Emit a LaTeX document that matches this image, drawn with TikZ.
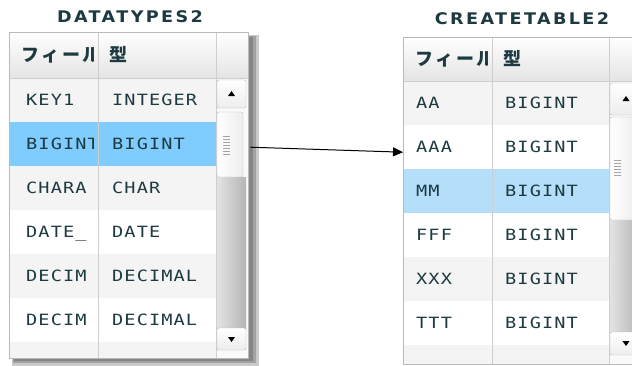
\documentclass[tikz,border=0pt]{standalone}
\usepackage{fontspec}
\usepackage{xcolor}
\usepackage{tikz}
\usetikzlibrary{positioning,arrows.meta}
\newfontfamily\cellfont[FakeStretch=1.2,LetterSpace=7]{DejaVu Sans Mono}
\newfontfamily\titlefont[FakeStretch=1.1,LetterSpace=15]{DejaVu Sans}
\newfontfamily\jpfont[LetterSpace=15]{Noto Sans CJK JP}
\definecolor{inktxt}{RGB}{28,58,64}
\definecolor{rowgray}{RGB}{244,244,244}
\definecolor{selblue}{RGB}{128,204,255}
\definecolor{selpale}{RGB}{180,222,250}
\definecolor{gridln}{RGB}{206,206,206}
\definecolor{hdrbot}{RGB}{228,228,228}
\tikzset{
  tbltitle/.style={font={\titlefont\bfseries\fontsize{16}{19}\selectfont}, text=inktxt, inner sep=0pt, text height=12pt, text depth=0pt},
  hdrtxt/.style={font={\jpfont\bfseries\fontsize{18}{20}\selectfont}, text=inktxt, anchor=west, inner sep=0pt, text height=13pt, text depth=0pt},
  celltxt/.style={font={\cellfont\fontsize{15.5}{18}\selectfont}, text=inktxt, anchor=west, inner sep=0pt, text height=11.3pt, text depth=0pt},
  rowbg/.style={rectangle, anchor=north west, inner sep=0pt, minimum width=239pt, minimum height=44pt},
  grid/.style={draw=gridln, line width=1pt},
  tblborder/.style={draw=gray!55, line width=1pt},
  hdrshade/.style={top color=white, bottom color=hdrbot},
  shadowlayer/.style={fill=black!75, opacity=0.28},
  sbbase/.style={fill=gray!5},
  sbbtn/.style={draw=gray!55, top color=white, bottom color=gray!14, rounded corners=1.5pt},
  sbthumb/.style={draw=gray!55, left color=white, right color=gray!14, rounded corners=2pt},
  sbtrack/.style={left color=gray!22, right color=gray!58},
  grip/.style={draw=gray!70, line width=0.8pt},
  link/.style={draw=black, line width=1pt, -{Triangle[length=10pt,width=9pt]}}
}
\begin{document}
\begin{tikzpicture}[x=1pt,y=-1pt]
  \useasboundingbox (0,0) rectangle (632,365);
  \clip (0,0) rectangle (632,365);
  \fill[white] (0,0) rectangle (632,365);

  % titles
  \node[tbltitle] (dtTitle) at (130,16) {DATATYPES2};
  \node[tbltitle] (ctTitle) at (522,18) {CREATETABLE2};

  % DATATYPES2 table
  \fill[shadowlayer] (12,35) rectangle (259,366);
  \fill[shadowlayer] (13,36) rectangle (256,363);
  \fill[shadowlayer] (14,37) rectangle (253,361);
  \shade[hdrshade] (9,32) rectangle (248,78);
  \node[rowbg, fill=rowgray] (dtRowKey) at (9,78) {};
  \node[rowbg, fill=selblue] (dtRowBigint) at (9,122) {};
  \node[rowbg, fill=rowgray] (dtRowChar) at (9,166) {};
  \node[rowbg, fill=white] (dtRowDate) at (9,210) {};
  \node[rowbg, fill=rowgray] (dtRowDecA) at (9,254) {};
  \node[rowbg, fill=white] (dtRowDecB) at (9,298) {};
  \node[rowbg, fill=rowgray, minimum height=16pt] (dtRowLast) at (9,342) {};
  \begin{scope}
    \clip (9,32) rectangle (93,358);
    \node[hdrtxt] (dtHdrName) at (21,55) {フィール};
    \node[celltxt] (dtKeyName) at (26,100) {KEY1};
    \node[celltxt] (dtBigintName) at (26,144) {BIGINT};
    \node[celltxt] (dtCharName) at (26,188) {CHARA};
    \node[celltxt] (dtDateName) at (26,232) {DATE\_};
    \node[celltxt] (dtDecAName) at (26,276) {DECIM};
    \node[celltxt] (dtDecBName) at (26,320) {DECIM};
  \end{scope}
  \node[hdrtxt] (dtHdrType) at (109,55) {型};
  \node[celltxt] (dtKeyType) at (112,100) {INTEGER};
  \node[celltxt] (dtBigintType) at (112,144) {BIGINT};
  \node[celltxt] (dtCharType) at (112,188) {CHAR};
  \node[celltxt] (dtDateType) at (112,232) {DATE};
  \node[celltxt] (dtDecAType) at (112,276) {DECIMAL};
  \node[celltxt] (dtDecBType) at (112,320) {DECIMAL};
  % scrollbar
  \fill[sbbase] (216,78) rectangle (248,358);
  \shade[sbtrack] (217,177) rectangle (246,328);
  \path[sbbtn] (217,80) rectangle (246,108);
  \fill (231.5,91) -- (235,96) -- (228,96) -- cycle;
  \path[sbthumb] (217,112) rectangle (243,177);
  \draw[grip] (223,136) -- (230,136) (223,139) -- (230,139) (223,142) -- (230,142)
    (223,145) -- (230,145) (223,148) -- (230,148) (223,151) -- (230,151) (223,154) -- (230,154);
  \path[sbbtn] (217,328) rectangle (246,350);
  \fill (228,337) -- (235,337) -- (231.5,342) -- cycle;
  \draw[grid] (9,78) -- (248,78);
  \draw[grid] (98,32) -- (98,358);
  \draw[grid] (216,32) -- (216,358);
  \draw[tblborder] (9,32) rectangle (248,358);

  % CREATETABLE2 table
  \shade[hdrshade] (403,37) rectangle (641,81);
  \node[rowbg, fill=rowgray] (ctRowAa) at (403,81) {};
  \node[rowbg, fill=white] (ctRowAaa) at (403,125) {};
  \node[rowbg, fill=selpale] (ctRowMm) at (403,169) {};
  \node[rowbg, fill=white] (ctRowFff) at (403,213) {};
  \node[rowbg, fill=rowgray] (ctRowXxx) at (403,257) {};
  \node[rowbg, fill=white] (ctRowTtt) at (403,301) {};
  \node[rowbg, fill=rowgray, minimum height=19pt] (ctRowLast) at (403,345) {};
  \begin{scope}
    \clip (403,37) rectangle (487,364);
    \node[hdrtxt] (ctHdrName) at (415,59) {フィール};
  \end{scope}
  \node[celltxt] (ctAaName) at (416,103) {AA};
  \node[celltxt] (ctAaaName) at (416,147) {AAA};
  \node[celltxt] (ctMmName) at (416,191) {MM};
  \node[celltxt] (ctFffName) at (416,235) {FFF};
  \node[celltxt] (ctXxxName) at (416,279) {XXX};
  \node[celltxt] (ctTttName) at (416,323) {TTT};
  \node[hdrtxt] (ctHdrType) at (503,59) {型};
  \node[celltxt] (ctAaType) at (505,103) {BIGINT};
  \node[celltxt] (ctAaaType) at (505,147) {BIGINT};
  \node[celltxt] (ctMmType) at (505,191) {BIGINT};
  \node[celltxt] (ctFffType) at (505,235) {BIGINT};
  \node[celltxt] (ctXxxType) at (505,279) {BIGINT};
  \node[celltxt] (ctTttType) at (505,323) {BIGINT};
  % scrollbar
  \fill[sbbase] (609,81) rectangle (641,364);
  \shade[sbtrack] (610,220) rectangle (639,332);
  \path[sbbtn] (610,83) rectangle (639,115);
  \fill (626,96) -- (629.5,101) -- (622.5,101) -- cycle;
  \path[sbthumb] (610,117) rectangle (636,220);
  \draw[grip] (614,160) -- (621,160) (614,163) -- (621,163) (614,166) -- (621,166)
    (614,169) -- (621,169) (614,172) -- (621,172) (614,175) -- (621,175);
  \path[sbbtn] (610,332) rectangle (639,355);
  \fill (622.5,341) -- (629.5,341) -- (626,346) -- cycle;
  \draw[grid] (403,81) -- (641,81);
  \draw[grid] (492,37) -- (492,364);
  \draw[grid] (609,37) -- (609,364);
  \draw[tblborder] (403,37) rectangle (641,364);

  % link
  \draw[link] ([xshift=2pt,yshift=-3pt]dtRowBigint.east) -- ([yshift=-5pt]ctRowAaa.west);
\end{tikzpicture}
\end{document}
